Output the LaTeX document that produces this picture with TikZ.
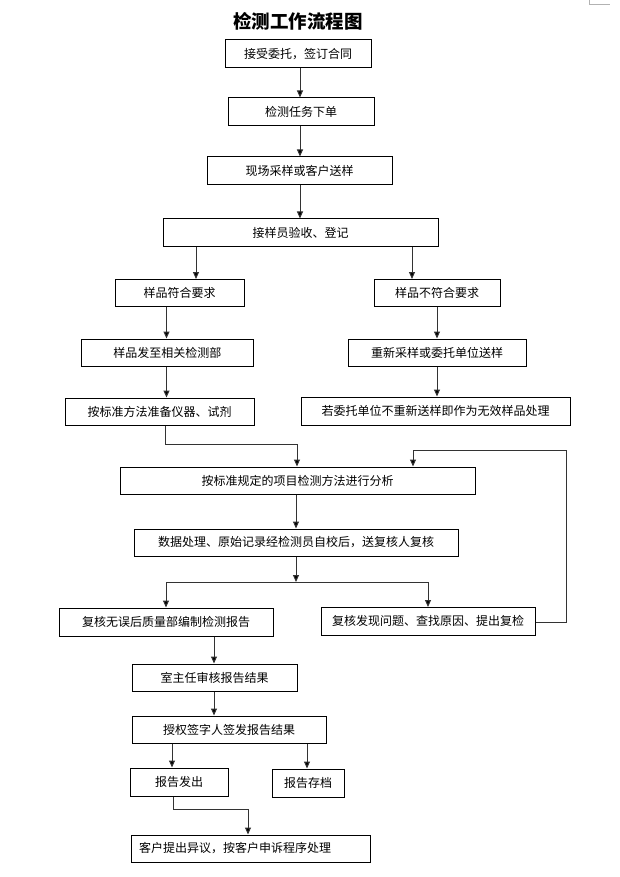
\documentclass[tikz,border=0pt]{standalone}
\usepackage{fontspec}
\newfontfamily\cjk{Noto Sans CJK SC}
\usetikzlibrary{arrows.meta}
\tikzset{
  boxst/.style={draw=black, line width=1pt, inner sep=0pt, font=\cjk\fontsize{12}{14}\selectfont},
  conn/.style={draw=black!80, line width=1pt},
  arr/.style={conn, -{Triangle[width=6pt,length=7pt,fill=black]}},
}
\newcommand\mkbox[6]{\node[boxst, minimum width={#4-#2}, minimum height={#5-#3}] (#1) at ({(#2+#4)/2},{(#3+#5)/2}) {#6};}
\begin{document}
\begin{tikzpicture}[x=1pt,y=-1pt]
\useasboundingbox[fill=white] (0,0) rectangle (620,877);
% corner mark
\draw[gray!60, line width=0.6pt] (589,0) -- (589,4.5) -- (610,4.5);
% title
\node[font=\cjk\bfseries\fontsize{18.5}{20}\selectfont] (title) at (298,21) {检测工作流程图};
% boxes
\mkbox{b1}{225}{40}{371}{68}{接受委托，签订合同}
\mkbox{b2}{228}{98}{374}{125.5}{检测任务下单}
\mkbox{b3}{207}{157}{392}{184.5}{现场采样或客户送样}
\mkbox{b4}{163}{219}{438}{246.5}{接样员验收、登记}
\mkbox{b5a}{115}{279.5}{244}{306}{样品符合要求}
\mkbox{b5b}{374}{279.5}{500}{306}{样品不符合要求}
\mkbox{b6a}{81.5}{339}{253}{366}{样品发至相关检测部}
\mkbox{b6b}{348}{339}{526}{366}{重新采样或委托单位送样}
\mkbox{b7a}{65}{398}{254}{425}{按标准方法准备仪器、试剂}
\mkbox{b7b}{301}{397}{570}{425}{若委托单位不重新送样即作为无效样品处理}
\mkbox{b8}{120}{467}{475}{494}{按标准规定的项目检测方法进行分析}
\mkbox{b9}{134}{529}{458}{556}{数据处理、原始记录经检测员自校后，送复核人复核}
\mkbox{b10a}{59}{608}{273}{636}{复核无误后质量部编制检测报告}
\mkbox{b10b}{321}{607.5}{535}{635}{复核发现问题、查找原因、提出复检}
\mkbox{b11}{132}{664}{297}{691.5}{室主任审核报告结果}
\mkbox{b12}{132}{716}{326}{743}{授权签字人签发报告结果}
\mkbox{b13a}{130}{768}{228}{796}{报告发出}
\mkbox{b13b}{272}{769}{344}{797}{报告存档}
\node[boxst, minimum width=239, minimum height=27, text width=223pt, inner xsep=8pt, align=left] (b14) at (250.5,848.5) {客户提出异议，按客户申诉程序处理};
% column coordinates
\coordinate (cTop) at (300,0);
\coordinate (cL4) at (196,0);
\coordinate (cR4) at (412,0);
\coordinate (cL5) at (166.5,0);
\coordinate (cR5) at (437,0);
\coordinate (m1) at (165,444);
\coordinate (m2) at (297,444);
\coordinate (lp1) at (566,622);
\coordinate (lp2) at (566,450);
\coordinate (lp3) at (413,450);
\coordinate (c9) at (296,0);
\coordinate (jn) at (296,582);
\coordinate (jL) at (166,582);
\coordinate (jR) at (428,582);
\coordinate (c11) at (214,0);
\coordinate (cL12) at (172,0);
\coordinate (cR12) at (307,0);
\coordinate (e1) at (173.5,809);
\coordinate (e2) at (248,809);
% connectors
\draw[arr] (b1.south -| cTop) -- (b2.north -| cTop);
\draw[arr] (b2.south -| cTop) -- (b3.north -| cTop);
\draw[arr] (b3.south -| cTop) -- (b4.north -| cTop);
\draw[arr] (b4.south -| cL4) -- (b5a.north -| cL4);
\draw[arr] (b4.south -| cR4) -- (b5b.north -| cR4);
\draw[arr] (b5a.south -| cL5) -- (b6a.north -| cL5);
\draw[arr] (b6a.south -| cL5) -- (b7a.north -| cL5);
\draw[arr] (b5b.south -| cR5) -- (b6b.north -| cR5);
\draw[arr] (b6b.south -| cR5) -- (b7b.north -| cR5);
\draw[arr] (b7a.south -| m1) -- (m1) -- (m2) -- (b8.north -| m2);
\draw[arr] (b10b.east |- lp1) -- (lp1) -- (lp2) -- (lp3) -- (b8.north -| lp3);
\draw[arr] (b8.south -| c9) -- (b9.north -| c9);
\draw[arr] (b9.south -| c9) -- (jn);
\draw[conn] (jL) -- (jR);
\draw[arr] (jL) -- (b10a.north -| jL);
\draw[arr] (jR) -- (b10b.north -| jR);
\draw[arr] (b10a.south -| c11) -- (b11.north -| c11);
\draw[arr] (b11.south -| c11) -- (b12.north -| c11);
\draw[arr] (b12.south -| cL12) -- (b13a.north -| cL12);
\draw[arr] (b12.south -| cR12) -- (b13b.north -| cR12);
\draw[arr] (b13a.south -| e1) -- (e1) -- (e2) -- (b14.north -| e2);
\end{tikzpicture}
\end{document}
